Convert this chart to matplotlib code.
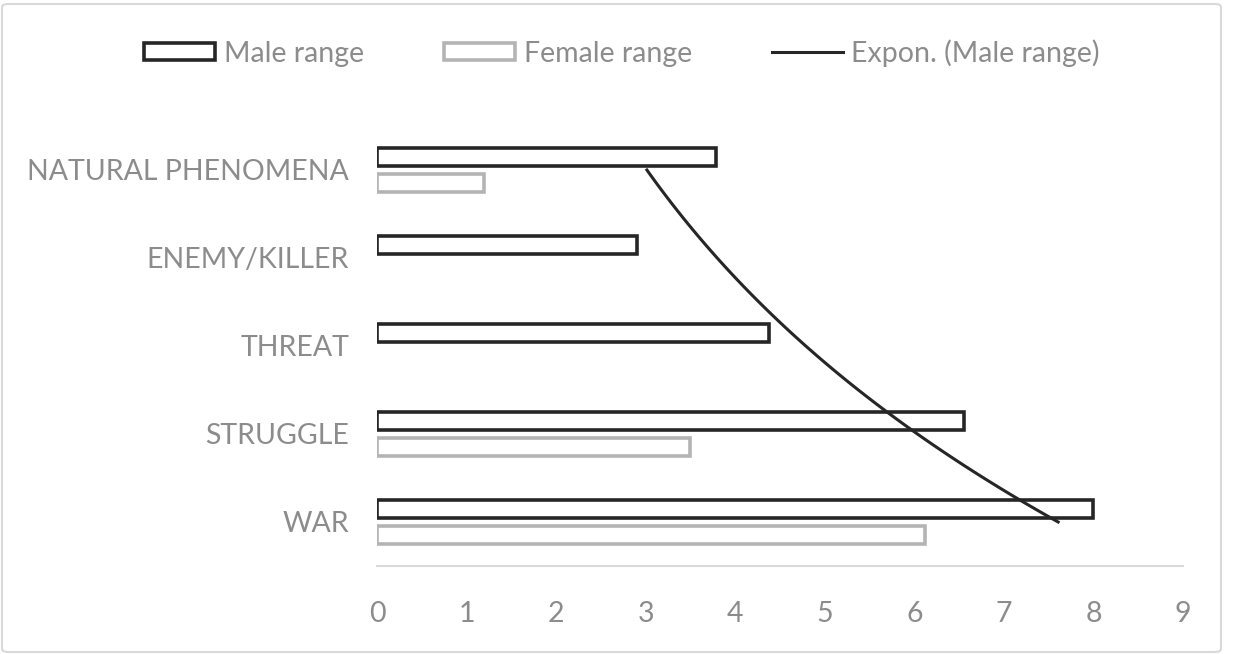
import numpy as np
import matplotlib.pyplot as plt
from matplotlib.patches import FancyBboxPatch

# data, bottom to top
categories = ['WAR', 'STRUGGLE', 'THREAT', 'ENEMY/KILLER', 'NATURAL PHENOMENA']
male = [8.0, 6.55, 4.38, 2.9, 3.78]
female = [6.12, 3.5, 0, 0, 1.2]
xticks = [0, 1, 2, 3, 4, 5, 6, 7, 8, 9]

plt.rcParams['font.family'] = ['Lato', 'DejaVu Sans']
txt = '#8c8c8c'
fs = 20.5

fig = plt.figure(figsize=(12.34, 6.54), dpi=100)
ax = fig.add_axes([377 / 1234, 1 - 566 / 654, (1183 - 377) / 1234, (566 - 126) / 654])

pos = np.arange(1, len(categories) + 1)
h = 0.205
off = 0.153
mb = ax.barh(pos + off, male, height=h, color='white', edgecolor='#262626', linewidth=2.6,
             label='Male range', zorder=3)
fb = ax.barh(pos - off, female, height=h, color='white', edgecolor='#b4b4b4', linewidth=2.6,
             label='Female range', zorder=3)
for b, v in zip(fb, female):
    if v == 0:
        b.set_visible(False)

# exponential trendline (Excel style, fitted on category index)
b1, a1 = np.polyfit(pos, np.log(male), 1)
yy = np.linspace(pos[0], pos[-1], 100)
tl, = ax.plot(np.exp(a1 + b1 * yy), yy, color='#262626', lw=2.2, label='Expon. (Male range)', zorder=4)

ax.set_xlim(0, 9)
ax.set_ylim(0.5, 5.5)
ax.set_xticks(xticks)
ax.set_yticks(pos)
ax.set_yticklabels(categories)
ax.tick_params(length=0, labelsize=fs, colors=txt)
ax.tick_params(axis='x', pad=25)
ax.tick_params(axis='y', pad=20)
for s in ['top', 'right', 'left']:
    ax.spines[s].set_visible(False)
ax.spines['bottom'].set_color('#d9d9d9')
ax.spines['bottom'].set_linewidth(1.5)

leg = fig.legend([mb, fb, tl], ['Male range', 'Female range', 'Expon. (Male range)'],
                 loc='center', bbox_to_anchor=(622 / 1234, 1 - 53 / 654), ncol=3, frameon=False,
                 fontsize=fs, handlelength=2.5, handleheight=0.55, columnspacing=2.8,
                 handletextpad=0.3)
for t in leg.get_texts():
    t.set_color(txt)

# outer frame
fig.patches.append(FancyBboxPatch((2 / 1234, 2 / 654), 1219 / 1234, 648 / 654,
                                  boxstyle='round,pad=0,rounding_size=0.005',
                                  transform=fig.transFigure, fill=False,
                                  edgecolor='#d9d9d9', lw=1.5))

fig.savefig('out.png', dpi=100)
